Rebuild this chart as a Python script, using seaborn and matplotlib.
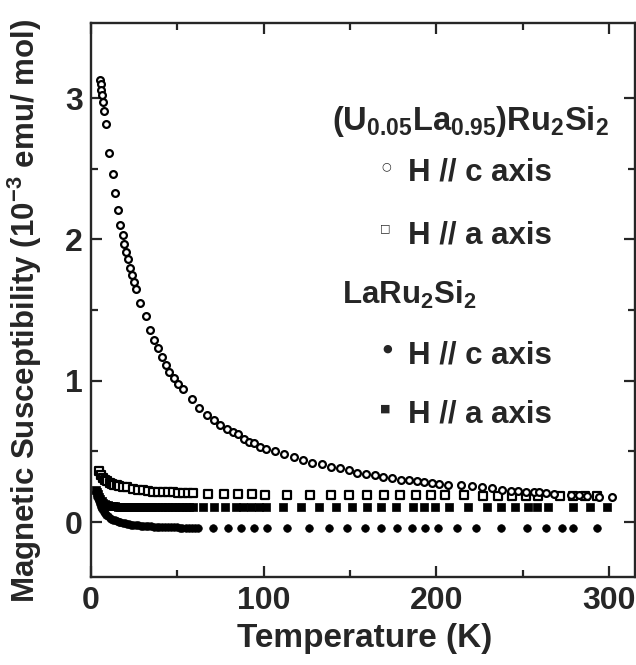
import numpy as np
import pandas as pd
import matplotlib
matplotlib.use('Agg')
import matplotlib.pyplot as plt
import seaborn as sns

# (U0.05La0.95)Ru2Si2, H // c axis  (open circles)
t_u_c = [5.2, 5.6, 6.0, 6.4, 6.8, 7.7, 8.7, 10.6, 12.6, 14.1, 15.6, 17.0, 18.3, 19.3,
         20.3, 21.4, 22.6, 23.6, 24.7, 26.1, 28.4, 31.8, 34.3, 36.5, 38.9, 41.0, 43.2,
         45.1, 47.9, 50.5, 53.4, 58.3, 62.7, 67.2, 71.4, 74.9, 78.7, 82.0, 84.9, 88.4,
         91.7, 94.6, 98.0, 101.3, 106.4, 112.0, 117.7, 123.1, 128.3, 133.6, 139.0,
         144.2, 149.4, 154.4, 159.6, 164.4, 169.4, 174.3, 179.5, 184.3, 188.8, 193.0,
         197.5, 201.7, 207.0, 214.2, 220.6, 226.8, 232.6, 238.4, 243.2, 247.5, 251.9,
         256.4, 259.6, 263.5, 268.0, 278.0, 282.7, 287.6, 294.3, 302.0]
chi_u_c = [3.13, 3.10, 3.06, 3.02, 2.97, 2.91, 2.82, 2.61, 2.46, 2.33, 2.21, 2.10, 2.03,
           1.97, 1.91, 1.86, 1.80, 1.75, 1.70, 1.65, 1.55, 1.46, 1.36, 1.29, 1.23, 1.17,
           1.11, 1.06, 1.02, 0.98, 0.94, 0.87, 0.81, 0.76, 0.72, 0.69, 0.66, 0.64, 0.62,
           0.59, 0.57, 0.56, 0.53, 0.52, 0.50, 0.48, 0.46, 0.44, 0.42, 0.41, 0.39, 0.38,
           0.37, 0.35, 0.34, 0.33, 0.32, 0.31, 0.30, 0.295, 0.29, 0.285, 0.28, 0.27,
           0.265, 0.26, 0.255, 0.25, 0.24, 0.23, 0.22, 0.22, 0.215, 0.21, 0.21, 0.205,
           0.20, 0.195, 0.19, 0.185, 0.18, 0.18]

# (U0.05La0.95)Ru2Si2, H // a axis  (open squares)
t_u_a = [4.4, 5.8, 6.7, 8.0, 9.2, 11.0, 12.3, 13.5, 15.0, 16.3, 18.3, 20.8, 24.1, 27.0,
         29.9, 32.8, 35.7, 38.6, 41.5, 44.4, 47.3, 50.2, 53.1, 56.0, 58.9, 67.6, 76.8,
         85.3, 93.1, 100.8, 113.5, 127.0, 139.0, 149.6, 160.2, 169.8, 179.1, 188.2,
         197.0, 205.0, 216.0, 227.0, 236.0, 244.0, 252.0, 259.0, 272.0, 279.0, 286.0,
         293.0]
chi_u_a = [0.36, 0.33, 0.31, 0.30, 0.29, 0.28, 0.27, 0.265, 0.26, 0.255, 0.25, 0.245,
           0.235, 0.23, 0.225, 0.22, 0.215, 0.215, 0.21, 0.21, 0.21, 0.205, 0.205, 0.205,
           0.205, 0.20, 0.20, 0.20, 0.20, 0.195, 0.195, 0.195, 0.195, 0.19, 0.19, 0.19,
           0.19, 0.19, 0.19, 0.19, 0.19, 0.185, 0.185, 0.185, 0.185, 0.185, 0.185, 0.185,
           0.185, 0.185]

# LaRu2Si2, H // c axis  (filled circles)
t_la_c = [3.0, 3.7, 4.4, 5.1, 5.8, 6.5, 7.3, 8.1, 9.0, 9.9, 10.8, 11.8, 12.8, 13.8, 14.9,
          16.0, 17.1, 18.3, 19.5, 20.7, 22.0, 23.3, 24.6, 26.0, 27.4, 28.8, 30.3, 31.8,
          33.3, 34.8, 36.4, 38.0, 39.6, 41.2, 42.8, 44.5, 46.2, 47.9, 49.6, 51.3, 53.0,
          54.8, 56.6, 58.4, 60.2, 62.0, 70.5, 79.2, 86.9, 94.2, 101.9, 113.5, 126.4,
          138.0, 148.6, 158.7, 168.3, 177.2, 185.7, 193.4, 200.8, 211.9, 223.1, 237.8,
          252.4, 263.6, 273.1, 279.5, 293.4]
chi_la_c = [0.21, 0.18, 0.15, 0.125, 0.105, 0.09, 0.075, 0.062, 0.05, 0.04, 0.032, 0.024,
            0.018, 0.012, 0.007, 0.003, -0.001, -0.005, -0.008, -0.011, -0.014, -0.017,
            -0.019, -0.021, -0.023, -0.025, -0.027, -0.028, -0.030, -0.031, -0.032,
            -0.033, -0.034, -0.035, -0.036, -0.037, -0.037, -0.038, -0.038, -0.039,
            -0.039, -0.040, -0.040, -0.040, -0.041, -0.041, -0.042, -0.042, -0.042,
            -0.042, -0.042, -0.042, -0.042, -0.042, -0.042, -0.042, -0.042, -0.042,
            -0.042, -0.042, -0.042, -0.042, -0.042, -0.042, -0.042, -0.042, -0.042,
            -0.042, -0.042]

# LaRu2Si2, H // a axis  (filled squares)
t_la_a = [2.8, 3.4, 4.0, 4.7, 5.4, 6.2, 7.0, 7.9, 8.8, 9.8, 10.8, 11.9, 13.0, 14.2, 15.4,
          16.7, 18.0, 19.4, 20.8, 22.3, 23.8, 25.4, 27.0, 28.6, 30.3, 32.0, 33.7, 35.5,
          37.3, 39.1, 41.0, 42.9, 44.8, 46.8, 48.8, 50.8, 52.8, 54.9, 57.0, 59.1, 64.7,
          71.3, 77.6, 84.0, 87.8, 92.6, 97.5, 101.3, 111.0, 121.6, 132.2, 141.9, 151.5,
          159.8, 167.9, 176.6, 186.3, 193.0, 199.2, 207.5, 218.5, 229.3, 237.8, 245.5,
          252.9, 258.3, 264.8, 279.5, 289.1, 299.2]
chi_la_a = [0.23, 0.215, 0.20, 0.18, 0.165, 0.15, 0.138, 0.128, 0.122, 0.118, 0.115,
            0.113, 0.112, 0.111, 0.11, 0.11, 0.11, 0.11, 0.11, 0.11, 0.11, 0.11, 0.11,
            0.11, 0.11, 0.11, 0.11, 0.11, 0.11, 0.11, 0.11, 0.11, 0.11, 0.11, 0.11, 0.11,
            0.11, 0.11, 0.11, 0.11, 0.11, 0.11, 0.11, 0.11, 0.11, 0.11, 0.11, 0.11, 0.11,
            0.11, 0.11, 0.11, 0.11, 0.11, 0.11, 0.11, 0.11, 0.11, 0.11, 0.11, 0.11, 0.11,
            0.11, 0.11, 0.11, 0.11, 0.11, 0.11, 0.11, 0.11]

x_ticks = [0, 100, 200, 300]
y_ticks = [0, 1, 2, 3]

sns.set_theme(style='ticks')
plt.rcParams['font.family'] = ['Liberation Sans', 'DejaVu Sans']
plt.rcParams['font.weight'] = 'bold'
plt.rcParams['mathtext.default'] = 'regular'
plt.rcParams['axes.linewidth'] = 1.7

fig = plt.figure(figsize=(6.36, 6.65), dpi=100)
ax = fig.add_axes([0.143, 0.132, 0.855, 0.833])

df_lc = pd.DataFrame({'T': t_la_c, 'chi': chi_la_c})
df_la = pd.DataFrame({'T': t_la_a, 'chi': chi_la_a})
df_ua = pd.DataFrame({'T': t_u_a, 'chi': chi_u_a})
df_uc = pd.DataFrame({'T': t_u_c, 'chi': chi_u_c})

sns.scatterplot(data=df_lc, x='T', y='chi', ax=ax, marker='o', s=30,
                color='black', edgecolor='black', linewidth=0.5, zorder=3)
sns.scatterplot(data=df_la, x='T', y='chi', ax=ax, marker='s', s=30,
                color='black', edgecolor='black', linewidth=0.5, zorder=3)
sns.scatterplot(data=df_ua, x='T', y='chi', ax=ax, marker='s', s=26,
                color='white', edgecolor='black', linewidth=1.6, zorder=4)
sns.scatterplot(data=df_uc, x='T', y='chi', ax=ax, marker='o', s=24,
                color='white', edgecolor='black', linewidth=1.6, zorder=5)

ax.set_xlim(0, 315)
ax.set_ylim(-0.39, 3.53)
ax.set_xticks(x_ticks)
ax.set_yticks(y_ticks)
ax.set_xticks([50, 150, 250], minor=True)
ax.set_yticks([0.5, 1.5, 2.5], minor=True)
ax.tick_params(which='both', direction='in', top=True, right=True, width=1.6)
ax.tick_params(which='major', length=8, labelsize=23, pad=6)
ax.tick_params(which='minor', length=5)
for lab in ax.get_xticklabels() + ax.get_yticklabels():
    lab.set_fontweight('bold')

ax.set_xlabel('Temperature (K)', fontsize=24, fontweight='bold')
ax.set_ylabel('Magnetic Susceptibility (10$^{-3}$ emu/ mol)', fontsize=22.5, fontweight='bold')
ax.xaxis.set_label_coords(0.504, -0.083)
ax.yaxis.set_label_coords(-0.087, 0.48)

# legend block drawn as text
fs = 22.5
ax.text(0.443, 0.807, '(U$_{0.05}$La$_{0.95}$)Ru$_2$Si$_2$', transform=ax.transAxes,
        fontsize=23.5, fontweight='bold', va='baseline')
ax.text(0.583, 0.717, 'H // c axis', transform=ax.transAxes, fontsize=fs,
        fontweight='bold', va='baseline')
ax.text(0.583, 0.603, 'H // a axis', transform=ax.transAxes, fontsize=fs,
        fontweight='bold', va='baseline')
ax.text(0.461, 0.493, 'LaRu$_2$Si$_2$', transform=ax.transAxes, fontsize=fs,
        fontweight='bold', va='baseline')
ax.text(0.583, 0.386, 'H // c axis', transform=ax.transAxes, fontsize=fs,
        fontweight='bold', va='baseline')
ax.text(0.583, 0.280, 'H // a axis', transform=ax.transAxes, fontsize=fs,
        fontweight='bold', va='baseline')

sym = dict(transform=ax.transAxes, ha='center', va='center', fontsize=8,
           family='DejaVu Sans', fontweight='bold')
ax.text(0.544, 0.741, '○', **sym)
ax.text(0.541, 0.630, '□', **sym)
ax.text(0.544, 0.412, '●', **sym)
ax.text(0.542, 0.305, '■', **sym)

fig.savefig('out.png', dpi=100)
